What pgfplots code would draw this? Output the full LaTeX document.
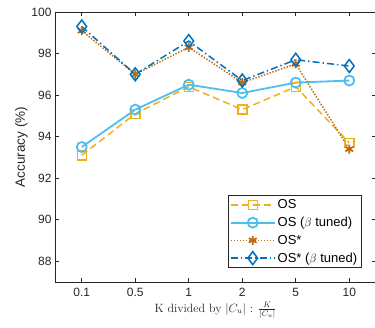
\documentclass[border=0pt]{standalone}
\usepackage{fontspec}
\newfontfamily\arial{Liberation Sans}
\usepackage{pgfplots}
\pgfplotsset{compat=1.18}
\definecolor{cOS}{HTML}{EDB120}
\definecolor{cOSb}{HTML}{4DBEEE}
\definecolor{cOSs}{HTML}{C06A10}
\definecolor{cOSsb}{HTML}{0072BD}
\definecolor{axgray}{HTML}{262626}
\begin{document}
\begin{tikzpicture}
\begin{axis}[
  name=ax,
  width=321pt, height=270pt, scale only axis,
  xmin=-0.5, xmax=5.5, ymin=87, ymax=100,
  xtick={0,1,2,3,4,5},
  xticklabels={0.1,0.5,1,2,5,10},
  ytick={88,90,92,94,96,98,100},
  tick align=inside,
  major tick length=4pt,
  clip=false,
  axis line style={axgray, line width=0.7pt},
  every tick/.style={axgray, line width=0.7pt},
  /pgf/number format/assume math mode=true,
  tick label style={font=\arial\fontsize{12}{14}\selectfont, text=axgray},
  xticklabel style={yshift=-3pt},
  ylabel={\arial Accuracy (\%)},
  ylabel style={font=\fontsize{13.5}{15}\selectfont, text=axgray, yshift=-3pt},
  xlabel={K divided by $|C_u|$ : $\frac{K}{|C_u|}$},
  xlabel style={font=\fontsize{12}{14}\selectfont, text=axgray, yshift=2pt},
  legend style={at={(0.955,0.052)}, anchor=south east, draw=axgray, line width=0.7pt,
    font=\arial\fontsize{13}{15}\selectfont, inner sep=2pt, row sep=3pt},
  legend cell align=left,
  legend image code/.code={
    \draw[mark repeat=2,mark phase=2]
    plot coordinates {(0cm,0cm) (22pt,0cm) (44pt,0cm)};
  },
]
\addplot[cOS, line width=1.5pt, dash pattern=on 7pt off 4pt, mark=square, mark size=4.5pt, mark options={solid}]
  coordinates {(0,93.1) (1,95.1) (2,96.4) (3,95.3) (4,96.4) (5,93.7)};
\addlegendentry{OS}
\addplot[cOSb, line width=1.8pt, mark=o, mark size=5pt, mark options={solid}]
  coordinates {(0,93.5) (1,95.3) (2,96.5) (3,96.1) (4,96.6) (5,96.7)};
\addlegendentry{OS ($\beta$ tuned)}
\addplot[cOSs, line width=1.5pt, dash pattern=on 1.4pt off 1.6pt, mark=asterisk, mark size=4.5pt, mark options={solid, line width=1.8pt}]
  coordinates {(0,99.1) (1,97.0) (2,98.3) (3,96.6) (4,97.5) (5,93.4)};
\addlegendentry{OS*}
\addplot[cOSsb, line width=1.5pt, dash pattern=on 7pt off 3pt on 1.5pt off 3pt, mark=diamond, mark size=6.5pt, mark options={solid}]
  coordinates {(0,99.3) (1,97.0) (2,98.6) (3,96.7) (4,97.7) (5,97.4)};
\addlegendentry{OS* ($\beta$ tuned)}
\end{axis}
\pgfresetboundingbox
\useasboundingbox ([shift={(-55pt,-45pt)}]ax.south west) rectangle ([shift={(-1pt,12pt)}]ax.north east);
\end{tikzpicture}
\end{document}
